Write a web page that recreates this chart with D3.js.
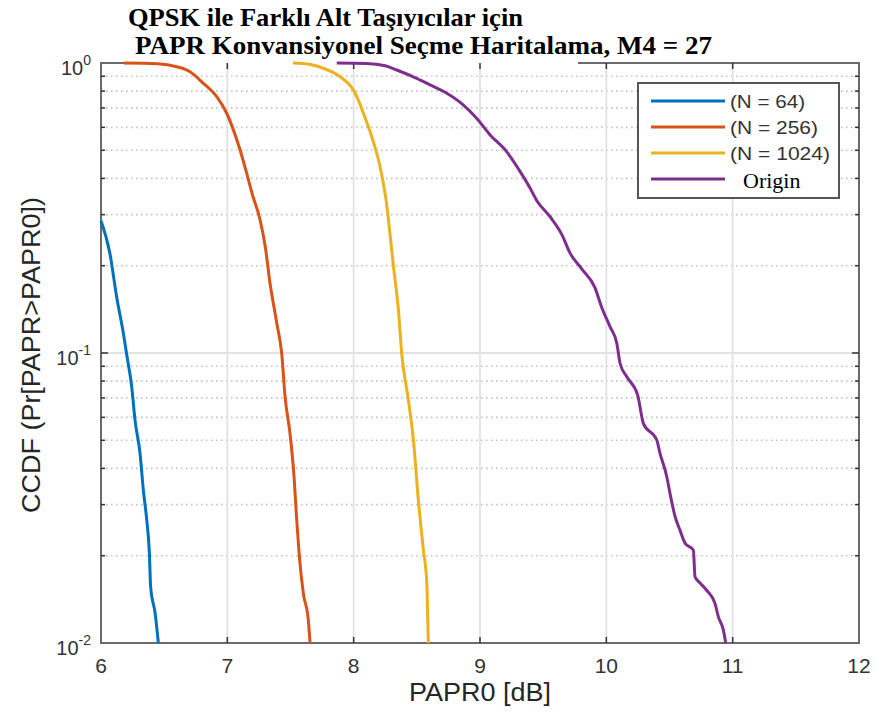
<!DOCTYPE html>
<html>
<head>
<meta charset="utf-8">
<script src="https://cdn.jsdelivr.net/npm/d3@7"></script>
<style>
  html, body { margin: 0; padding: 0; background: #fff; }
  svg { display: block; }
</style>
</head>
<body>
<svg id="chart" width="877" height="720"></svg>
<script>
// ---------------- data ----------------
const titleLines = ["QPSK ile Farklı Alt Taşıyıcılar için", "PAPR Konvansiyonel Seçme Haritalama, M4 = 27"];
const xLabel = "PAPR0 [dB]";
const yLabel = "CCDF (Pr[PAPR>PAPR0])";
const xTicks = [6, 7, 8, 9, 10, 11, 12];
const yTickExps = [0, -1, -2];
const seriesNames = ["(N = 64)", "(N = 256)", "(N = 1024)", "Origin"];
const seriesColors = ["#0072BD", "#D95319", "#EDB120", "#7E2F8E"];

const n64X = [6.0, 6.07, 6.124, 6.177, 6.203, 6.243, 6.269, 6.309, 6.335, 6.362, 6.383, 6.393, 6.428, 6.454];
const n64P = [0.286, 0.221, 0.156, 0.117, 0.099, 0.0766, 0.0588, 0.0451, 0.0337, 0.0266, 0.0204, 0.0156, 0.0127, 0.0100];

const n256X = [6.18, 6.45, 6.6, 6.705, 6.81, 6.916, 6.995, 7.048, 7.101, 7.153, 7.2, 7.259, 7.3, 7.338, 7.391, 7.431, 7.457, 7.496, 7.528, 7.549, 7.570, 7.602, 7.641, 7.655];
const n256P = [1.0, 0.995, 0.971, 0.933, 0.851, 0.765, 0.671, 0.588, 0.501, 0.417, 0.35, 0.288, 0.233, 0.174, 0.127, 0.099, 0.0707, 0.0528, 0.0375, 0.0266, 0.0199, 0.0148, 0.0120, 0.0100];

const n1024X = [7.52, 7.65, 7.76, 7.892, 7.998, 8.037, 8.077, 8.143, 8.209, 8.255, 8.315, 8.354, 8.381, 8.433, 8.473, 8.512, 8.552, 8.579, 8.586, 8.591];
const n1024P = [1.0, 0.99, 0.959, 0.897, 0.807, 0.745, 0.671, 0.557, 0.439, 0.34, 0.199, 0.141, 0.099, 0.0689, 0.0501, 0.0311, 0.0209, 0.0161, 0.0123, 0.0100];

const originX = [7.866, 8.1, 8.25, 8.341, 8.499, 8.605, 8.737, 8.869, 8.975, 9.08, 9.212, 9.318, 9.397, 9.45, 9.555, 9.65, 9.713, 9.805, 9.91, 9.96, 10.03, 10.083, 10.109, 10.162, 10.248, 10.293, 10.399, 10.425, 10.478, 10.504, 10.544, 10.583, 10.623, 10.689, 10.702, 10.742, 10.794, 10.86, 10.887, 10.926, 10.945];
const originP = [1.0, 0.997, 0.978, 0.946, 0.885, 0.84, 0.786, 0.716, 0.644, 0.565, 0.494, 0.422, 0.370, 0.335, 0.295, 0.255, 0.221, 0.195, 0.168, 0.145, 0.123, 0.108, 0.092, 0.0828, 0.0716, 0.0572, 0.0501, 0.0451, 0.0375, 0.0328, 0.0273, 0.0245, 0.0221, 0.0209, 0.0169, 0.0161, 0.0152, 0.0137, 0.0123, 0.0111, 0.0100];

const seriesX = [n64X, n256X, n1024X, originX];
const seriesP = [n64P, n256P, n1024P, originP];

// ---------------- layout ----------------
const L = 101, R = 859, T = 63, B = 643;
const svg = d3.select("#chart");
const x = d3.scaleLinear().domain([6, 12]).range([L, R]);
const y = d3.scaleLog().domain([0.01, 1]).range([B, T]);

const minorVals = [];
[0.01, 0.1].forEach(d => { for (let k = 2; k <= 9; k++) minorVals.push(d * k); });

// grid
const g = svg.append("g");
g.selectAll("line.minor").data(minorVals).enter().append("line")
  .attr("x1", L).attr("x2", R).attr("y1", d => y(d)).attr("y2", d => y(d))
  .attr("stroke", "#c4c4c4").attr("stroke-width", 1.6).attr("stroke-dasharray", "1.6,3.4");
g.selectAll("line.vmaj").data(xTicks.slice(1, -1)).enter().append("line")
  .attr("x1", d => x(d)).attr("x2", d => x(d)).attr("y1", T).attr("y2", B)
  .attr("stroke", "#e2e2e2").attr("stroke-width", 1.8);
g.append("line").attr("x1", L).attr("x2", R).attr("y1", y(0.1)).attr("y2", y(0.1))
  .attr("stroke", "#e2e2e2").attr("stroke-width", 1.8);

// frame
svg.append("rect").attr("x", L).attr("y", T).attr("width", R - L).attr("height", B - T)
  .attr("fill", "none").attr("stroke", "#6a6a6a").attr("stroke-width", 2);
// title background hides part of top border (as in reference)
svg.append("rect").attr("x", 128).attr("y", 0).attr("width", 450).attr("height", T + 1.5).attr("fill", "#fff");

// ticks
const tk = svg.append("g").attr("stroke", "#333").attr("stroke-width", 1.5);
xTicks.slice(1, -1).forEach(v => {
  tk.append("line").attr("x1", x(v)).attr("x2", x(v)).attr("y1", B).attr("y2", B - 6);
  tk.append("line").attr("x1", x(v)).attr("x2", x(v)).attr("y1", T).attr("y2", T + 6);
});
minorVals.forEach(v => {
  tk.append("line").attr("x1", L).attr("x2", L + 4).attr("y1", y(v)).attr("y2", y(v));
  tk.append("line").attr("x1", R).attr("x2", R - 4).attr("y1", y(v)).attr("y2", y(v));
});
tk.append("line").attr("x1", L).attr("x2", L + 7).attr("y1", y(0.1)).attr("y2", y(0.1));
tk.append("line").attr("x1", R).attr("x2", R - 7).attr("y1", y(0.1)).attr("y2", y(0.1));

// x tick labels
svg.append("g").selectAll("text").data(xTicks).enter().append("text")
  .attr("x", d => x(d)).attr("y", B + 30).attr("text-anchor", "middle")
  .attr("font-family", "Liberation Sans, Arial, sans-serif").attr("font-size", 21).attr("fill", "#333")
  .text(d => d);

// y tick labels
yTickExps.forEach(e => {
  const t = svg.append("text").attr("x", 91).attr("y", y(Math.pow(10, e)) + 12)
    .attr("text-anchor", "end").attr("font-family", "Liberation Sans, Arial, sans-serif").attr("fill", "#333");
  t.append("tspan").attr("font-size", 20).text("10");
  t.append("tspan").attr("font-size", 14).attr("dy", -10).text(String(e));
});

// axis labels
svg.append("text").attr("x", (L + R) / 2).attr("y", 701).attr("text-anchor", "middle")
  .attr("font-family", "Liberation Sans, Arial, sans-serif").attr("font-size", 25).attr("fill", "#262626")
  .attr("textLength", 142).attr("lengthAdjust", "spacingAndGlyphs").text(xLabel);
svg.append("text").attr("transform", `translate(40,${(T + B) / 2 + 2}) rotate(-90)`).attr("text-anchor", "middle")
  .attr("font-family", "Liberation Sans, Arial, sans-serif").attr("font-size", 25).attr("fill", "#262626")
  .attr("textLength", 316).attr("lengthAdjust", "spacingAndGlyphs").text(yLabel);

// curves
const line = d3.line().x(d => x(d[0])).y(d => y(d[1])).curve(d3.curveMonotoneX);
seriesX.forEach((xs, i) => {
  const pts = xs.map((v, j) => [v, seriesP[i][j]]);
  svg.append("path").datum(pts).attr("d", line).attr("fill", "none")
    .attr("stroke", seriesColors[i]).attr("stroke-width", 3).attr("stroke-linejoin", "round");
});

// title
const titlePos = [[128, 26, 395], [135, 54, 577]];
titleLines.forEach((s, i) => {
  svg.append("text").attr("x", titlePos[i][0]).attr("y", titlePos[i][1])
    .attr("font-family", "Liberation Serif, Times New Roman, serif").attr("font-weight", "bold")
    .attr("font-size", 25).attr("fill", "#000")
    .attr("textLength", titlePos[i][2]).attr("lengthAdjust", "spacingAndGlyphs").text(s);
});

// legend
const lg = svg.append("g");
lg.append("rect").attr("x", 638).attr("y", 83).attr("width", 201).attr("height", 115)
  .attr("fill", "#fff").attr("stroke", "#555").attr("stroke-width", 2);
const rowY = [101, 127, 153, 179];
seriesNames.forEach((nm, i) => {
  lg.append("line").attr("x1", 651).attr("x2", 725).attr("y1", rowY[i]).attr("y2", rowY[i])
    .attr("stroke", seriesColors[i]).attr("stroke-width", 3);
  if (i < 3) {
    lg.append("text").attr("x", 730).attr("y", rowY[i] + 7)
      .attr("font-family", "Liberation Sans, Arial, sans-serif").attr("font-size", 19).attr("fill", "#333")
      .attr("textLength", i === 0 ? 75 : (i === 1 ? 88 : 100)).attr("lengthAdjust", "spacingAndGlyphs").text(nm);
  } else {
    lg.append("text").attr("x", 743).attr("y", rowY[i] + 9)
      .attr("font-family", "Liberation Serif, Times New Roman, serif").attr("font-size", 22).attr("fill", "#000")
      .text(nm);
  }
});
</script>
</body>
</html>
